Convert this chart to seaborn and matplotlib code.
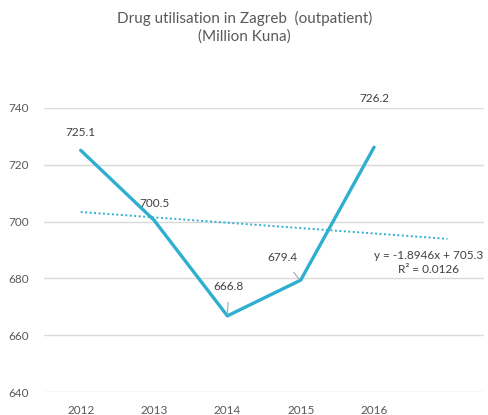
import numpy as np
import pandas as pd
import matplotlib
matplotlib.use('Agg')
import matplotlib.pyplot as plt
import seaborn as sns

sns.set_theme(style='white')
plt.rcParams['font.family'] = ['Lato', 'DejaVu Sans']

# data
years = ['2012', '2013', '2014', '2015', '2016']
values = [725.1, 700.5, 666.8, 679.4, 726.2]
trend_label = ['y = -1.8946x + 705.3', 'R\u00b2 = 0.0126']
yticks = [640, 660, 680, 700, 720, 740]

line_color = '#2FAFD0'
text_color = '#404040'
tick_color = '#595959'

df = pd.DataFrame({'idx': np.arange(len(years)), 'value': values})

fig = plt.figure(figsize=(4.89, 4.15), dpi=100)
ax = fig.add_axes([0.09, 0.0554, 0.90, 0.6844])

sns.lineplot(data=df, x='idx', y='value', color=line_color, linewidth=2.4,
             ax=ax, zorder=3)

# linear trend, forecast one period forward (Excel style)
slope, intercept = np.polyfit(df['idx'] + 1, df['value'], 1)
tx = np.array([1, len(years) + 1])
ax.plot(tx - 1, slope * tx + intercept, color=line_color, linewidth=1.4,
        linestyle=(0, (1, 1.3)), zorder=2)

ax.set_xlim(-0.5, 5.5)
ax.set_ylim(640, 740)
ax.set_xticks(range(len(years)))
ax.set_xticklabels(years)
ax.set_yticks(yticks)
ax.set_xlabel('')
ax.set_ylabel('')
ax.tick_params(axis='both', colors=tick_color, labelsize=8.5, length=0)
ax.tick_params(axis='y', pad=11)
ax.tick_params(axis='x', pad=9)
ax.yaxis.grid(True, color='#d9d9d9', linewidth=1)
ax.set_axisbelow(True)
sns.despine(ax=ax, left=True, bottom=True)

# data labels
offsets = {0: (0, 6.2), 1: (0, 5.8), 4: (0, 17)}
for i, v in enumerate(values):
    if i in offsets:
        dx, dy = offsets[i]
        ax.text(i + dx, v + dy, f'{v:.1f}', ha='center', va='center',
                fontsize=8.5, color=text_color, clip_on=False)
ax.annotate(f'{values[2]:.1f}', xy=(2, values[2] + 0.5), xytext=(2.02, 677.1),
            ha='center', va='center', fontsize=8.5, color=text_color,
            arrowprops=dict(arrowstyle='-', color='#a6a6a6', lw=0.8,
                            shrinkA=5, shrinkB=0))
ax.annotate(f'{values[3]:.1f}', xy=(2.98, values[3] + 0.3), xytext=(2.75, 687.2),
            ha='center', va='center', fontsize=8.5, color=text_color,
            arrowprops=dict(arrowstyle='-', color='#a6a6a6', lw=0.8,
                            shrinkA=5, shrinkB=0))

ax.text(5.49, 685.7, '\n'.join(trend_label), ha='right', va='center',
        multialignment='center', fontsize=8.5, color=text_color,
        linespacing=1.3)

fig.text(0.5, 0.933, 'Drug utilisation in Zagreb  (outpatient)\n(Million Kuna)',
         ha='center', va='center', fontsize=11, color=tick_color,
         linespacing=1.3)

fig.savefig('out.png', dpi=100)
